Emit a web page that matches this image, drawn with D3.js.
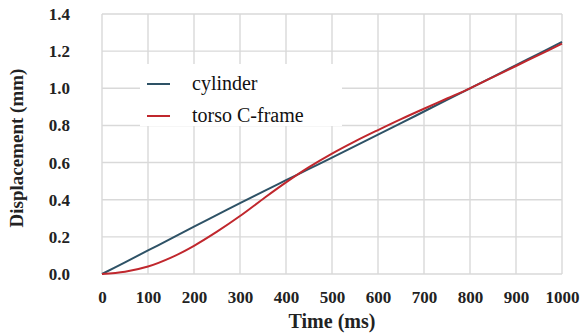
<!DOCTYPE html>
<html>
<head>
<meta charset="utf-8">
<script src="https://cdn.jsdelivr.net/npm/d3@7"></script>
<style>
  body { margin: 0; background: #fff; }
  svg { display: block; }
</style>
</head>
<body>
<div id="chart"></div>
<script>
// data
const timeMs = [0, 50, 100, 150, 200, 250, 300, 350, 400, 450, 500, 550, 600, 650, 700, 750, 800, 850, 900, 950, 1000];
const cylinder = [0, 0.063, 0.127, 0.19, 0.255, 0.318, 0.382, 0.444, 0.505, 0.566, 0.627, 0.689, 0.75, 0.812, 0.875, 0.938, 1.0, 1.062, 1.125, 1.187, 1.25];
const torsoCFrame = [0, 0.012, 0.04, 0.088, 0.152, 0.228, 0.312, 0.404, 0.493, 0.575, 0.648, 0.714, 0.775, 0.834, 0.89, 0.945, 1.0, 1.06, 1.12, 1.18, 1.24];
const seriesNames = ["cylinder", "torso C-frame"];
const seriesColors = ["#2e5266", "#c0272d"];
const xTicks = [0, 100, 200, 300, 400, 500, 600, 700, 800, 900, 1000];
const yTicks = [0, 0.2, 0.4, 0.6, 0.8, 1.0, 1.2, 1.4];

const serif = '"Liberation Serif", "Times New Roman", Times, serif';

// svg container
const svgWidth = 581;
const svgHeight = 334;

// plot area
const margin = { top: 14, right: 19, bottom: 60, left: 102 };
const chartWidth = svgWidth - margin.left - margin.right;
const chartHeight = svgHeight - margin.top - margin.bottom;

const svg = d3.select("#chart").append("svg")
    .attr("width", svgWidth)
    .attr("height", svgHeight);

const chartGroup = svg.append("g")
    .attr("transform", `translate(${margin.left}, ${margin.top})`);

// scales
const xScale = d3.scaleLinear().domain([0, 1000]).range([0, chartWidth]);
const yScale = d3.scaleLinear().domain([0, 1.4]).range([chartHeight, 0]);

// grid
const gridColor = "#d9d9d9";
chartGroup.append("g")
    .selectAll("line")
    .data(xTicks)
    .enter()
    .append("line")
    .attr("x1", d => xScale(d))
    .attr("x2", d => xScale(d))
    .attr("y1", 0)
    .attr("y2", chartHeight)
    .attr("stroke", gridColor)
    .attr("stroke-width", 1.4);

chartGroup.append("g")
    .selectAll("line")
    .data(yTicks)
    .enter()
    .append("line")
    .attr("x1", 0)
    .attr("x2", chartWidth)
    .attr("y1", d => yScale(d))
    .attr("y2", d => yScale(d))
    .attr("stroke", gridColor)
    .attr("stroke-width", 1.4);

// axes (labels only)
const xAxis = d3.axisBottom(xScale).tickValues(xTicks).tickSize(0).tickPadding(17)
    .tickFormat(d3.format("d"));
const yAxis = d3.axisLeft(yScale).tickValues(yTicks).tickSize(0).tickPadding(32)
    .tickFormat(d3.format(".1f"));

const xAxisGroup = chartGroup.append("g")
    .attr("transform", `translate(0, ${chartHeight})`)
    .call(xAxis);
const yAxisGroup = chartGroup.append("g").call(yAxis);

[xAxisGroup, yAxisGroup].forEach(g => {
    g.select(".domain").remove();
    g.attr("font-family", serif).attr("font-size", 17);
    g.selectAll("text")
        .attr("fill", "#222")
        .style("font-family", serif)
        .style("font-weight", "bold")
        .style("font-size", "17px");
});

// legend background (covers the grid)
chartGroup.append("rect")
    .attr("x", 140 - margin.left)
    .attr("y", 64 - margin.top)
    .attr("width", 202)
    .attr("height", 62)
    .attr("fill", "#fff");

// lines
const seriesData = [cylinder, torsoCFrame];
const line = d3.line()
    .x((d, i) => xScale(timeMs[i]))
    .y(d => yScale(d))
    .curve(d3.curveCatmullRom);

chartGroup.selectAll(".series")
    .data(seriesData)
    .enter()
    .append("path")
    .attr("class", "series")
    .attr("d", d => line(d))
    .attr("fill", "none")
    .attr("stroke", (d, i) => seriesColors[i])
    .attr("stroke-width", 2);

// legend
const legend = svg.append("g").attr("transform", "translate(147, 84)");
seriesNames.forEach((name, i) => {
    const row = legend.append("g").attr("transform", `translate(0, ${i * 32})`);
    row.append("line")
        .attr("x1", 0).attr("x2", 23)
        .attr("y1", 0).attr("y2", 0)
        .attr("stroke", seriesColors[i])
        .attr("stroke-width", 2);
    row.append("text")
        .attr("x", 45)
        .attr("y", 6)
        .attr("fill", "#111")
        .style("font-family", serif)
        .style("font-size", "20px")
        .text(name);
});

// axis titles
svg.append("text")
    .attr("x", margin.left + chartWidth / 2)
    .attr("y", 328)
    .attr("text-anchor", "middle")
    .attr("fill", "#222")
    .style("font-family", serif)
    .style("font-weight", "bold")
    .style("font-size", "20px")
    .text("Time (ms)");

svg.append("text")
    .attr("transform", "translate(23, 148) rotate(-90)")
    .attr("text-anchor", "middle")
    .attr("fill", "#222")
    .style("font-family", serif)
    .style("font-weight", "bold")
    .style("font-size", "19px")
    .text("Displacement (mm)");
</script>
</body>
</html>
